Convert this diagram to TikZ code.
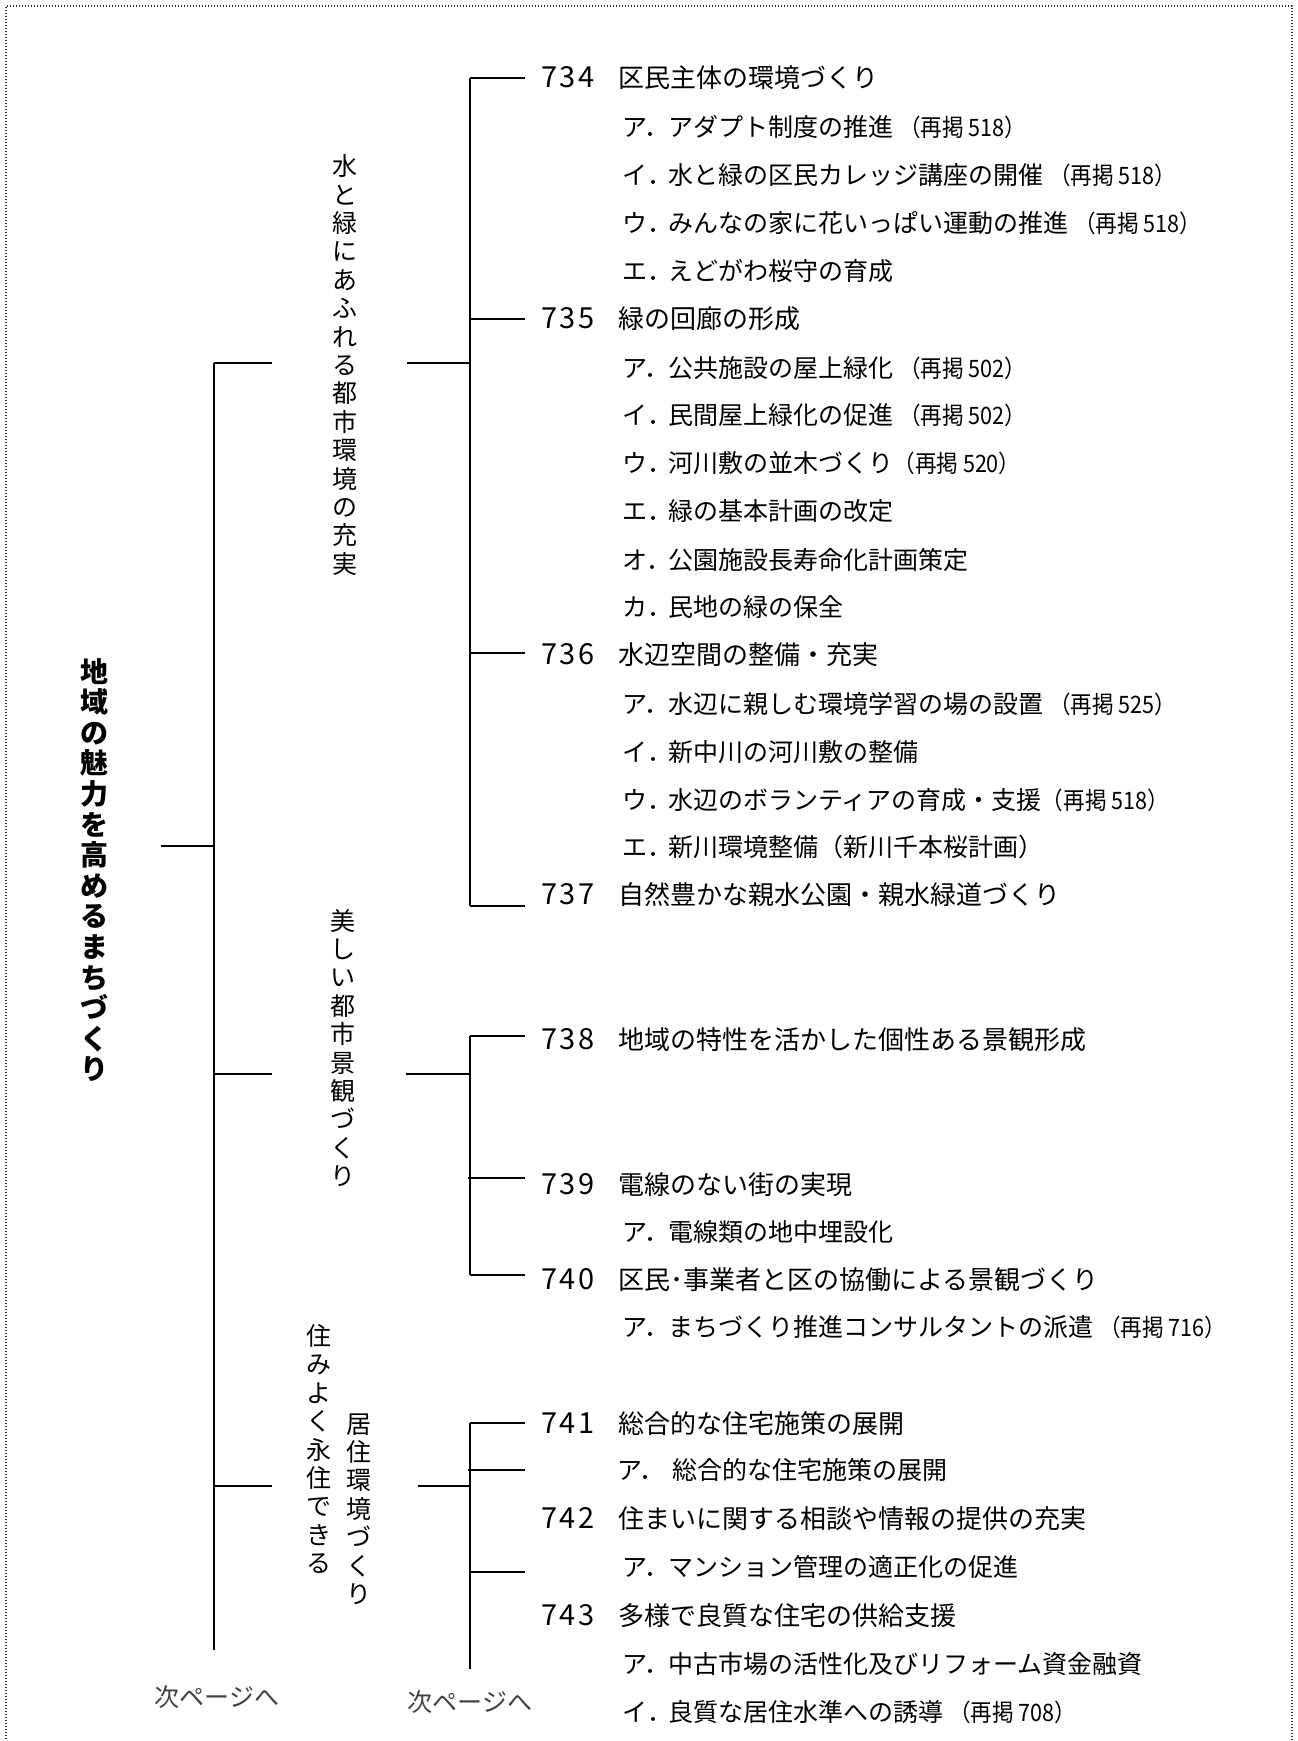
\documentclass[tikz,border=0pt]{standalone}
\usepackage{fontspec}
\setmainfont{Noto Sans CJK JP}
\usepackage{graphicx}
\usetikzlibrary{positioning}
\XeTeXlinebreaklocale "ja"

\newcommand\saikei[1]{{\fontsize{12pt}{12pt}\selectfont\scalebox{0.9}[1]{（再掲 #1）}}}
\newcommand\kou[2]{\makebox[23pt][l]{#1．}#2}

\tikzset{
  branch/.style={line width=1pt},
  frame/.style={line width=0.6pt, dash pattern=on 0.5pt off 1pt, black!80},
  num/.style={anchor=west, inner sep=0pt, text height=10.5pt, text depth=1pt,
    font=\fontsize{14.5pt}{15pt}\selectfont\addfontfeature{LetterSpace=8}},
  ttl/.style={anchor=west, inner sep=0pt, text height=10.5pt, text depth=1pt,
    font=\fontsize{13pt}{15pt}\selectfont},
  sub/.style={anchor=west, inner sep=0pt, text height=10.5pt, text depth=1pt,
    font=\fontsize{12.5pt}{15pt}\selectfont},
  tate/.style={text width=14pt, align=center, inner sep=0pt,
    font=\fontsize{12.5pt}{14.2pt}\selectfont},
  roottate/.style={text width=16pt, align=center, inner sep=0pt,
    font=\bfseries\fontsize{14pt}{15.3pt}\selectfont},
  nextpage/.style={inner sep=0pt, black!75, font=\fontsize{12.5pt}{14pt}\selectfont}
}

\begin{document}
\begin{tikzpicture}[x=0.5pt, y=-0.5pt, line cap=butt]
  \useasboundingbox (0,0) rectangle (1297,1741);
  % dotted frame (bottom edge runs off the page)
  \draw[frame] (6,1745) -- (6,6) -- (1292,6) -- (1292,1745);

  % vertical labels
  \node[roottate] (chiiki) at (94,870) {地域の魅力を高めるまちづくり};
  \node[tate] (mizumidori) at (345,365) {水と緑にあふれる都市環境の充実};
  \node[tate] (keikan) at (343,1048) {美しい都市景観づくり};
  \node[tate] (sumiyoku) at (319,1449) {住みよく永住できる};
  \node[tate] (kyoju) at (359,1509) {居住環境づくり};

  % trunk
  \coordinate (root-r) at (161,846);
  \coordinate (trunk-top) at (214,363);
  \coordinate (trunk-bot) at (214,1650);
  \draw[branch] (root-r) -- (root-r -| trunk-top);
  \draw[branch] (trunk-top) -- (trunk-bot);
  \foreach \name/\y in {b1/363, b2/1074, b3/1486}
    \coordinate (\name) at (272,\y);
  \foreach \name in {b1, b2, b3}
    \draw[branch] (\name -| trunk-top) -- (\name);

  % brackets
  \foreach \name/\y in {k734/78, k735/319, k736/653, k737/906,
                        k738/1036, k740/1275, k741/1423, k742/1572}
    \coordinate (\name) at (470,\y);
  \coordinate (k739) at (468,1178);
  \coordinate (k741a) at (468,1470);
  \coordinate (g3bot) at (470,1669);
  \draw[branch] (k734) -- (k737);
  \draw[branch] (k738) -- (k740);
  \draw[branch] (k741) -- (g3bot);
  \foreach \name in {k734, k735, k736, k737, k738, k740, k741, k742}
    \draw[branch] (\name) -- ++(55,0);
  \draw[branch] (k739) -- ++(57,0);
  \draw[branch] (k741a) -- ++(57,0);

  % label ticks into the brackets
  \coordinate (c1) at (407,363);
  \coordinate (c2) at (406,1074);
  \coordinate (c3) at (418,1486);
  \foreach \name in {c1, c2, c3}
    \draw[branch] (\name) -- (\name -| k734);

  % group 1
  \node[num] (n734) at (541,78) {734};
  \node[ttl] (t734) at (618,78) {区民主体の環境づくり};
  \node[sub] (t734a) at (622,127) {\kou{ア}{アダプト制度の推進 \saikei{518}}};
  \node[sub] (t734b) at (622,175) {\kou{イ}{水と緑の区民カレッジ講座の開催 \saikei{518}}};
  \node[sub] (t734c) at (622,223) {\kou{ウ}{みんなの家に花いっぱい運動の推進 \saikei{518}}};
  \node[sub] (t734d) at (622,271) {\kou{エ}{えどがわ桜守の育成}};
  \node[num] (n735) at (541,319) {735};
  \node[ttl] (t735) at (618,319) {緑の回廊の形成};
  \node[sub] (t735a) at (622,368) {\kou{ア}{公共施設の屋上緑化 \saikei{502}}};
  \node[sub] (t735b) at (622,415) {\kou{イ}{民間屋上緑化の促進 \saikei{502}}};
  \node[sub] (t735c) at (622,463) {\kou{ウ}{河川敷の並木づくり\saikei{520}}};
  \node[sub] (t735d) at (622,511) {\kou{エ}{緑の基本計画の改定}};
  \node[sub] (t735e) at (622,560) {\kou{オ}{公園施設長寿命化計画策定}};
  \node[sub] (t735f) at (622,607) {\kou{カ}{民地の緑の保全}};
  \node[num] (n736) at (541,655) {736};
  \node[ttl] (t736) at (618,655) {水辺空間の整備・充実};
  \node[sub] (t736a) at (622,704) {\kou{ア}{水辺に親しむ環境学習の場の設置 \saikei{525}}};
  \node[sub] (t736b) at (622,752) {\kou{イ}{新中川の河川敷の整備}};
  \node[sub] (t736c) at (622,800) {\kou{ウ}{水辺のボランティアの育成・支援\saikei{518}}};
  \node[sub] (t736d) at (622,847) {\kou{エ}{新川環境整備（新川千本桜計画）}};
  \node[num] (n737) at (541,895) {737};
  \node[ttl] (t737) at (618,895) {自然豊かな親水公園・親水緑道づくり};

  % group 2
  \node[num] (n738) at (541,1040) {738};
  \node[ttl] (t738) at (618,1040) {地域の特性を活かした個性ある景観形成};
  \node[num] (n739) at (541,1185) {739};
  \node[ttl] (t739) at (618,1185) {電線のない街の実現};
  \node[sub] (t739a) at (622,1232) {\kou{ア}{電線類の地中埋設化}};
  \node[num] (n740) at (541,1280) {740};
  \node[ttl] (t740) at (618,1280) {区民･事業者と区の協働による景観づくり};
  \node[sub] (t740a) at (622,1327) {\kou{ア}{まちづくり推進コンサルタントの派遣 \saikei{716}}};

  % group 3
  \node[num] (n741) at (541,1424) {741};
  \node[ttl] (t741) at (618,1424) {総合的な住宅施策の展開};
  \node[sub] (t741a) at (617,1470) {\makebox[27.5pt][l]{ア．}総合的な住宅施策の展開};
  \node[num] (n742) at (541,1519) {742};
  \node[ttl] (t742) at (618,1519) {住まいに関する相談や情報の提供の充実};
  \node[sub] (t742a) at (622,1567) {\kou{ア}{マンション管理の適正化の促進}};
  \node[num] (n743) at (541,1616) {743};
  \node[ttl] (t743) at (618,1616) {多様で良質な住宅の供給支援};
  \node[sub] (t743a) at (622,1664) {\kou{ア}{中古市場の活性化及びリフォーム資金融資}};
  \node[sub] (t743b) at (622,1712) {\kou{イ}{良質な居住水準への誘導 \saikei{708}}};

  % continued
  \node[nextpage] (next1) at (217,1697) {次ページへ};
  \node[nextpage] (next2) at (470,1702) {次ページへ};
\end{tikzpicture}
\end{document}
